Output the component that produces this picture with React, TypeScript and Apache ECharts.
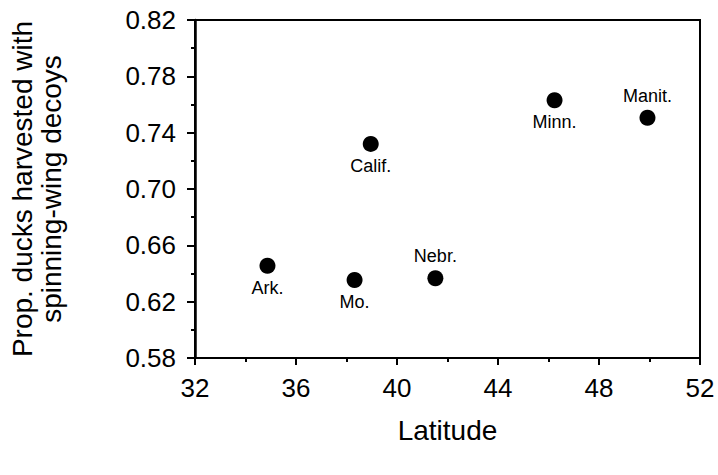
import React, { useEffect, useRef } from "react";
import * as echarts from "echarts";

const states = ["Ark.", "Mo.", "Nebr.", "Calif.", "Minn.", "Manit."];
const latitude = [34.87, 38.32, 41.52, 38.96, 46.24, 49.92];
const propSpinning = [0.6455, 0.6354, 0.6366, 0.732, 0.763, 0.7506];
const labelPositions = ["bottom", "bottom", "top", "bottom", "bottom", "top"];

const FONT = "'Liberation Sans', Arial, Helvetica, sans-serif";

export default function App() {
  const ref = useRef<HTMLDivElement>(null);
  useEffect(() => {
    if (!ref.current) return;
    const chart = echarts.init(ref.current, null, { renderer: "svg" });
    const data = states.map((s, i) => ({
      name: s,
      value: [latitude[i], propSpinning[i]],
      label: { position: labelPositions[i] },
    }));
    chart.setOption({
      animation: false,
      backgroundColor: "#ffffff",
      textStyle: { fontFamily: FONT },
      grid: {
        left: 193,
        top: 20,
        right: 18,
        bottom: 117,
        show: true,
        borderColor: "#000",
        borderWidth: 2,
        backgroundColor: "transparent",
      },
      xAxis: {
        type: "value",
        min: 32,
        max: 52,
        interval: 4,
        name: "Latitude",
        nameLocation: "middle",
        nameGap: 58,
        nameTextStyle: { fontSize: 28, color: "#000", fontFamily: FONT },
        axisLine: { show: true, onZero: false, lineStyle: { color: "#000", width: 2 } },
        axisTick: { show: true, inside: false, length: 7, lineStyle: { color: "#000", width: 2 } },
        minorTick: { show: true, splitNumber: 2, length: 4, lineStyle: { color: "#000", width: 2 } },
        splitLine: { show: false },
        axisLabel: { fontSize: 26, color: "#000", margin: 17, fontFamily: FONT },
      },
      yAxis: {
        type: "value",
        min: 0.58,
        max: 0.82,
        interval: 0.04,
        name: "Prop. ducks harvested with\nspinning-wing decoys",
        nameLocation: "middle",
        nameRotate: 90,
        nameGap: 129,
        nameTextStyle: { fontSize: 28, lineHeight: 29, color: "#000", fontFamily: FONT, align: "center" },
        axisLine: { show: true, onZero: false, lineStyle: { color: "#000", width: 2.5 } },
        axisTick: { show: true, inside: false, length: 8, lineStyle: { color: "#000", width: 2 } },
        minorTick: { show: true, splitNumber: 2, length: 4, lineStyle: { color: "#000", width: 2 } },
        splitLine: { show: false },
        axisLabel: {
          fontSize: 26,
          color: "#000",
          margin: 19,
          fontFamily: FONT,
          formatter: (v: number) => v.toFixed(2),
        },
      },
      series: [
        {
          type: "scatter",
          symbol: "circle",
          symbolSize: 16,
          itemStyle: { color: "#000", opacity: 1 },
          label: {
            show: true,
            formatter: (p: any) => p.name,
            fontSize: 18,
            color: "#000",
            fontFamily: FONT,
            distance: 5,
          },
          data,
        },
      ],
    });
    return () => chart.dispose();
  }, []);
  return (
    <div
      ref={ref}
      style={{ position: "fixed", left: 0, top: 0, width: 718, height: 475, background: "#fff" }}
    />
  );
}
